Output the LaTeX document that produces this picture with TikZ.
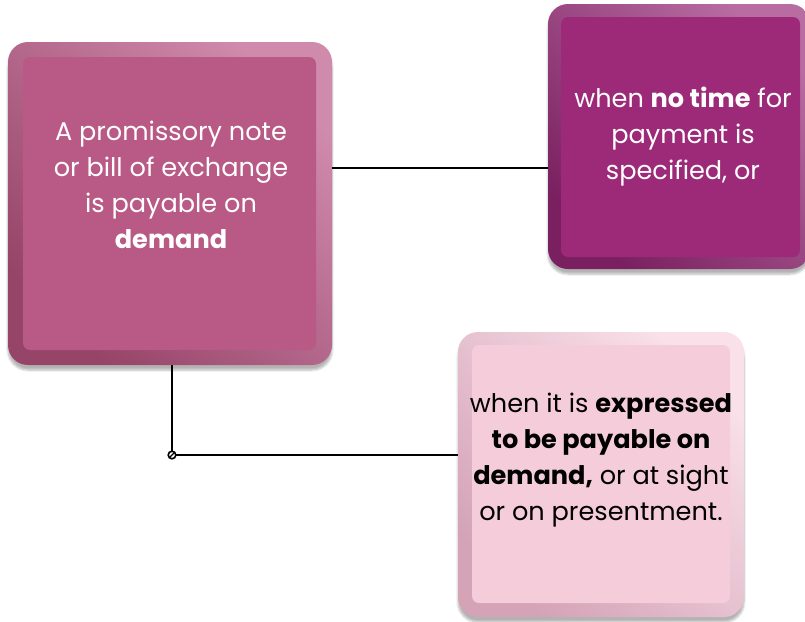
\documentclass[tikz,border=0pt]{standalone}
\usepackage{fontspec}
\setmainfont{Poppins}
\usetikzlibrary{shadows.blur,calc}
\definecolor{aMain}{HTML}{B85A85}
\definecolor{aLight}{HTML}{D08AAC}
\definecolor{aDark}{HTML}{964468}
\definecolor{bMain}{HTML}{9C2A78}
\definecolor{bLight}{HTML}{B86CA2}
\definecolor{bDark}{HTML}{7A2060}
\definecolor{cMain}{HTML}{F5CCDA}
\definecolor{cLight}{HTML}{F9E0E9}
\definecolor{cDark}{HTML}{D4A3B6}
\tikzset{
  outerbox/.style={rounded corners=20pt, inner sep=0pt,
    blur shadow={shadow xshift=0pt, shadow yshift=-5pt, shadow blur steps=6, shadow opacity=30}},
  diag/.style={shading angle=-45},
  boxtext/.style={align=center, font=\fontsize{25.6}{36}\selectfont, inner sep=0pt},
  link/.style={draw=black, line width=1.3pt}
}
\begin{document}
\begin{tikzpicture}[x=1pt,y=-1pt]
\useasboundingbox (0,0) rectangle (805,621);
% box 1
\node[outerbox, top color=aLight, bottom color=aDark, diag, minimum width=324pt, minimum height=323pt] (b1) at (170,203.5) {};
\fill[aMain, rounded corners=7pt] (23,57) rectangle (316,350);
\node[boxtext, text=white] (t1) at (171,185) {A promissory note\\or bill of exchange\\is payable on\\\textbf{demand}};
% box 2
\node[outerbox, top color=bLight, bottom color=bDark, diag, minimum width=262pt, minimum height=265pt] (b2) at (679,136.5) {};
\fill[bMain, rounded corners=7pt] (561,17) rectangle (800,257);
\node[boxtext, text=white] (t2) at (683,137) {when \textbf{no time} for\\payment is\\specified, or};
% box 3
\node[outerbox, top color=cLight, bottom color=cDark, diag, minimum width=286pt, minimum height=285pt] (b3) at (601,474.5) {};
\fill[cMain, rounded corners=7pt] (472,345) rectangle (730,603);
\node[boxtext, text=black] (t3) at (601,460) {when it is \textbf{expressed}\\\textbf{to be payable on}\\\textbf{demand,} or at sight\\or on presentment.};
% connectors
\coordinate (h1) at (440,168);
\coordinate (j) at (172,455);
\draw[link] (b1.east |- h1) -- (b2.west |- h1);
\draw[link] (b1.south -| j) -- (j) -- (b3.west |- j);
\draw[black, line width=1.6pt, fill=white] (j) circle (3.8pt);
\draw[black, line width=1.2pt] ($(j)+(-2.7,2.7)$) -- ($(j)+(2.7,-2.7)$);
\end{tikzpicture}
\end{document}
